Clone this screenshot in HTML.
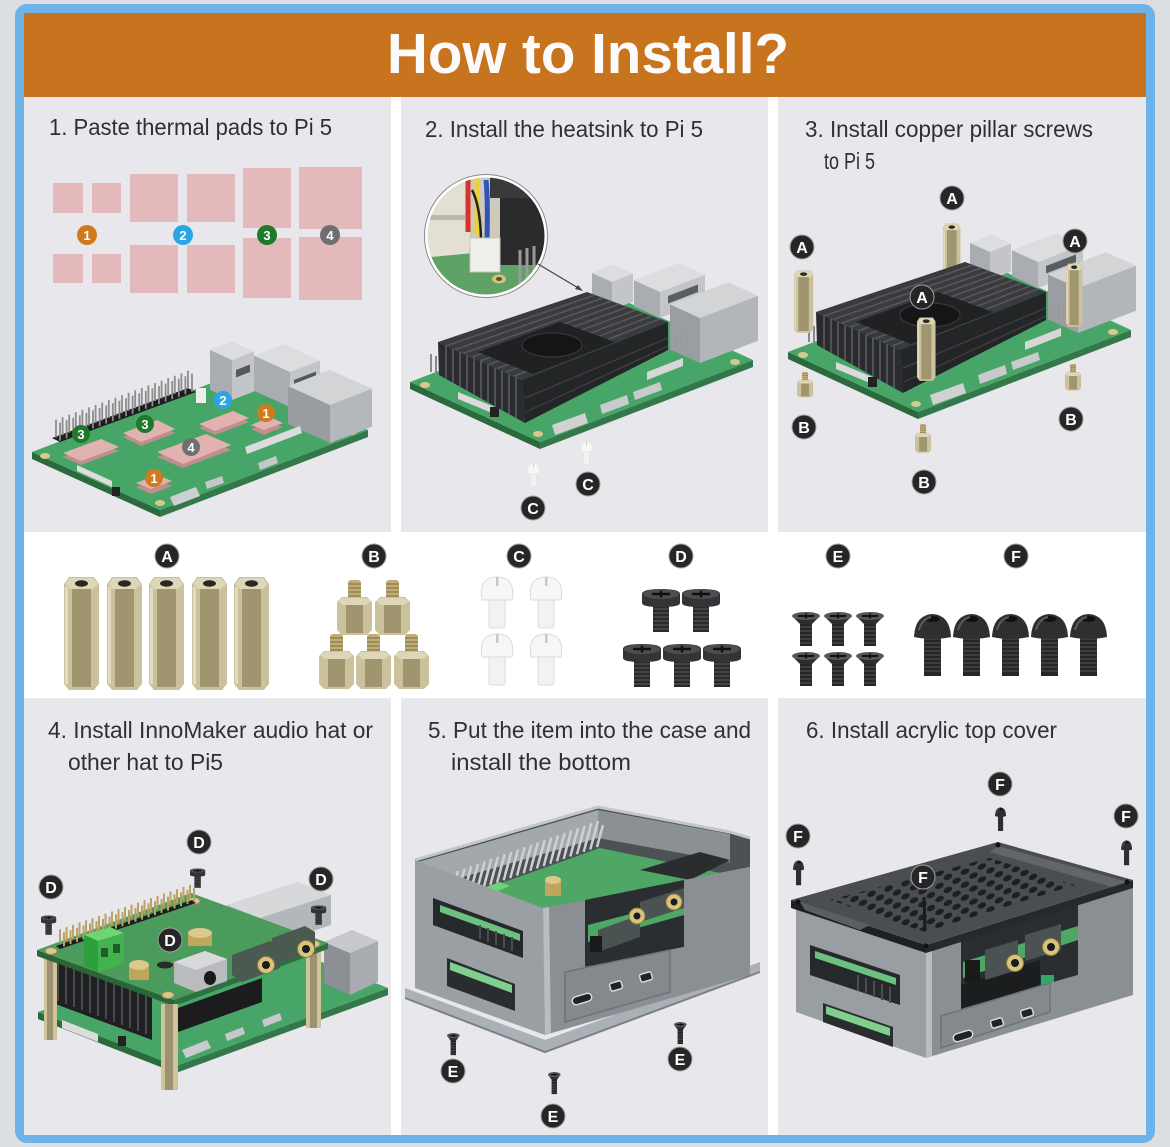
<!DOCTYPE html>
<html><head><meta charset="utf-8"><style>
html,body{margin:0;padding:0;background:#dcdfe1;}
svg{display:block;}
.bd circle{fill:#262626;stroke:#a0a0a0;stroke-width:1;}
.bd text{fill:#fff;font-weight:bold;font-size:16px;text-anchor:middle;font-family:"Liberation Sans",sans-serif;}
.nb text{fill:#fff;font-weight:bold;font-size:13px;text-anchor:middle;font-family:"Liberation Sans",sans-serif;}
.st{font-family:"Liberation Sans",sans-serif;font-size:23px;fill:#303030;}
</style></head><body>
<svg width="1170" height="1147" viewBox="0 0 1170 1147" xmlns="http://www.w3.org/2000/svg">
<defs>
 <g id="pA">
  <polygon points="0,8 5,1 30,1 35,8 35,108 30,114 5,114 0,108" fill="#cbc29d"/>
  <rect x="8" y="11" width="19" height="100" fill="#9f9670"/>
  <rect x="1" y="11" width="3" height="97" fill="#e2dbbf"/>
  <polygon points="1,8 6,2 29,2 34,8 29,13 6,13" fill="#ddd6b8"/>
  <ellipse cx="17.5" cy="7.5" rx="6.5" ry="3.2" fill="#2a2822"/>
 </g>
 <g id="pB">
  <rect x="11" y="0" width="13" height="22" rx="3" fill="#bfae78"/>
  <path d="M11 4h13M11 8h13M11 12h13M11 16h13" stroke="#8a7a4c" stroke-width="1.2"/>
  <polygon points="0,22 5,17 30,17 35,22 35,50 30,55 5,55 0,50" fill="#cbc29d"/>
  <rect x="9" y="22" width="17" height="31" fill="#9f9670"/>
  <polygon points="1,21 6,18 29,18 34,21 29,25 6,25" fill="#ddd6b8"/>
 </g>
 <g id="pC">
  <rect x="10" y="20" width="16" height="32" rx="2" fill="#f2f2f2" stroke="#dcdcdc" stroke-width="1"/>
  <path d="M3 24 Q0 8 9 3 Q18 -1 27 3 Q36 8 33 24 Z" fill="#f7f7f7" stroke="#dadada" stroke-width="1"/>
  <rect x="17" y="1" width="2.5" height="9" fill="#c8c8c8"/>
 </g>
 <g id="pD">
  <rect x="11" y="16" width="16" height="28" fill="#2a2a2b"/>
  <path d="M11 21h16M11 25h16M11 29h16M11 33h16M11 37h16M11 41h16" stroke="#555" stroke-width="1.2"/>
  <path d="M0 6 Q0 1 19 1 Q38 1 38 6 L38 15 Q38 19 19 19 Q0 19 0 15 Z" fill="#333436"/>
  <ellipse cx="19" cy="6" rx="18" ry="5" fill="#4d4e51"/>
  <path d="M10 6h18M19 2.5v7" stroke="#111" stroke-width="2.5"/>
 </g>
 <g id="pE">
  <rect x="8" y="10" width="12" height="24" fill="#262627"/>
  <path d="M8 15h12M8 19h12M8 23h12M8 27h12M8 31h12" stroke="#4e4e4e" stroke-width="1.2"/>
  <polygon points="0,4 28,4 20,12 8,12" fill="#2d2d2e"/>
  <ellipse cx="14" cy="4" rx="14" ry="4" fill="#555658"/>
  <path d="M6 4h16M14 1.5v5" stroke="#111" stroke-width="2"/>
 </g>
 <g id="pF">
  <rect x="10" y="20" width="17" height="43" fill="#262627"/>
  <path d="M10 26h17M10 30h17M10 34h17M10 38h17M10 42h17M10 46h17M10 50h17M10 54h17M10 58h17" stroke="#4a4a4a" stroke-width="1.2"/>
  <path d="M0 24 Q1 2 18.5 1 Q36 2 37 24 Q18.5 28 0 24Z" fill="#2e2f31"/>
  <ellipse cx="18.5" cy="6" rx="7" ry="3" fill="#111"/>
  <path d="M5 17 Q8 6 17 4" stroke="#5a5b5e" stroke-width="2" fill="none"/>
 </g>
 <g id="pi2">
  <polygon points="410,382 540,442 540,449 410,389" fill="#2a6a3d"/>
  <polygon points="540,442 753,360 753,367 540,449" fill="#33784a"/>
  <polygon points="410,382 540,442 753,360 623,300" fill="#47a667"/>
  <ellipse cx="425" cy="385" rx="5" ry="3" fill="#d9c98f"/>
  <ellipse cx="538" cy="434" rx="5" ry="3" fill="#d9c98f"/>
  <ellipse cx="735" cy="362" rx="5" ry="3" fill="#d9c98f"/>
  <polygon points="612,282 592,273 613,264.5 633,273.5" fill="#dcdddf"/>
  <polygon points="592,273 612,282 612,310 592,301" fill="#a9acb0"/>
  <polygon points="612,282 633,273.5 633,301.5 612,310" fill="#c3c5c8"/>
  <polygon points="660,292 634,280.3 679,263 705,274.7" fill="#dcdddf"/>
  <polygon points="634,280.3 660,292 660,318 634,306.3" fill="#a9acb0"/>
  <polygon points="660,292 705,274.7 705,300.7 660,318" fill="#c3c5c8"/>
  <polygon points="668,296 698,284.5 698,292 668,303.5" fill="#5a5d61"/>
  <polygon points="700,318 670,304.5 728,282.2 758,295.7" fill="#d2d4d6"/>
  <polygon points="670,304.5 700,318 700,363 670,349.5" fill="#9a9da1"/>
  <polygon points="700,318 758,295.7 758,340.7 700,363" fill="#b3b6b9"/>
  <path d="M676 352v-16M681 350v-16M686 348v-16" stroke="#9a9a9a" stroke-width="2"/>
  <polygon points="647,372 683,358 683,366 647,380" fill="#d7d7d7"/>
  <polygon points="633,392 660,382 662,390 635,400" fill="#c8cacc"/>
  <polygon points="600,405 627,395 629,404 602,414" fill="#c8cacc"/>
  <polygon points="552,425 585,413 588,423 555,435" fill="#cfd1d3"/>
  <polygon points="458,392 497,408 497,415 458,399" fill="#dadada"/>
  <rect x="490" y="407" width="9" height="10" fill="#222"/>
  <path d="M431 372v-18M436 374v-18" stroke="#888" stroke-width="2"/>
  <polygon points="438,342 522,380 525,423 439,375" fill="#2a2b2e"/>
  <polygon points="522,380 668,322 668,350 525,423" fill="#242527"/>
  <polygon points="438,342 587,292 668,322 522,380" fill="#3a3b3e"/>
  <path d="M446.4 345.8L595.1 295M454.8 349.6L603.2 298M463.2 353.4L611.3 301M471.6 357.2L619.4 304M480 361L627.5 307M488.4 364.8L635.6 310M496.8 368.6L643.7 313M505.2 372.4L651.8 316M513.6 376.2L659.9 319" stroke="#55575b" stroke-width="1.6"/>
  <path d="M446 345.6V378.9M453 348.8V382.8M460 352V386.7M467 355.1V390.6M474 358.3V394.5M481 361.5V398.4M488 364.6V402.3M495 367.8V406.2M502 371V410.2M509 374.1V414.1M516 377.3V418" stroke="#5a5c60" stroke-width="1.6"/>
  <path d="M525 398L668 338M526 412L668 346" stroke="#3c3d40" stroke-width="1.5"/>
  <polygon points="478,352 560,322 615,342 533,374" fill="#202123"/>
  <ellipse cx="552" cy="345" rx="30" ry="12" fill="#151517" stroke="#3a3b3e" stroke-width="1"/>
 </g>
 <clipPath id="insetClip"><circle cx="486" cy="236" r="60"/></clipPath>
 <pattern id="hex" patternUnits="userSpaceOnUse" width="17" height="13" patternTransform="skewY(-17)">
  <ellipse cx="4.5" cy="3.2" rx="4.3" ry="2.9" fill="#1d1f22"/>
  <ellipse cx="13" cy="9.7" rx="4.3" ry="2.9" fill="#1d1f22"/>
 </pattern>
</defs>

<!-- frame -->
<rect width="1170" height="1147" fill="#dcdfe1"/>
<rect x="15" y="4" width="1140" height="1139" rx="12" fill="#6db3ea"/>
<rect x="24" y="13" width="1122" height="1122" fill="#ffffff"/>
<rect x="24" y="13" width="1122" height="84" fill="#c8741f"/>
<text x="387" y="73" font-family="'Liberation Sans',sans-serif" font-size="57" font-weight="bold" fill="#fbfbfb" textLength="402" lengthAdjust="spacingAndGlyphs">How to Install?</text>

<!-- panels -->
<rect x="24" y="97" width="367" height="435" fill="#e8e7ec"/>
<rect x="401" y="97" width="367" height="435" fill="#e8e7ec"/>
<rect x="778" y="97" width="368" height="435" fill="#e8e7ec"/>
<rect x="24" y="698" width="367" height="437" fill="#e8e7ec"/>
<rect x="401" y="698" width="367" height="437" fill="#e8e7ec"/>
<rect x="778" y="698" width="368" height="437" fill="#e8e7ec"/>

<!-- step texts -->
<text class="st" x="49" y="135" textLength="283" lengthAdjust="spacingAndGlyphs">1. Paste thermal pads to Pi 5</text>
<text class="st" x="425" y="137" textLength="278" lengthAdjust="spacingAndGlyphs">2. Install the heatsink to Pi 5</text>
<text class="st" x="805" y="137" textLength="288" lengthAdjust="spacingAndGlyphs">3. Install copper pillar screws</text>
<text class="st" x="824" y="169" textLength="51" lengthAdjust="spacingAndGlyphs">to Pi 5</text>
<text class="st" x="48" y="738" textLength="325" lengthAdjust="spacingAndGlyphs">4. Install InnoMaker audio hat or</text>
<text class="st" x="68" y="770" textLength="155" lengthAdjust="spacingAndGlyphs">other hat to Pi5</text>
<text class="st" x="428" y="738" textLength="323" lengthAdjust="spacingAndGlyphs">5. Put the item into the case and</text>
<text class="st" x="451" y="770" textLength="180" lengthAdjust="spacingAndGlyphs">install the bottom</text>
<text class="st" x="806" y="738" textLength="251" lengthAdjust="spacingAndGlyphs">6. Install acrylic top cover</text>

<!-- ========== PANEL 1 ========== -->
<g fill="#e3b9bb">
 <rect x="53" y="183" width="30" height="30"/><rect x="92" y="183" width="29" height="30"/>
 <rect x="130" y="174" width="48" height="48"/><rect x="187" y="174" width="48" height="48"/>
 <rect x="243" y="168" width="48" height="60"/><rect x="299" y="167" width="63" height="62"/>
 <rect x="53" y="254" width="30" height="29"/><rect x="92" y="254" width="29" height="29"/>
 <rect x="130" y="245" width="48" height="48"/><rect x="187" y="245" width="48" height="48"/>
 <rect x="243" y="238" width="48" height="60"/><rect x="299" y="237" width="63" height="63"/>
</g>
<g class="nb">
 <circle cx="87" cy="235" r="10" fill="#d07a1e"/><text x="87" y="240">1</text>
 <circle cx="183" cy="235" r="10" fill="#2aa6e4"/><text x="183" y="240">2</text>
 <circle cx="267" cy="235" r="10" fill="#1d7a2b"/><text x="267" y="240">3</text>
 <circle cx="330" cy="235" r="10" fill="#6f6f70"/><text x="330" y="240">4</text>
</g>
<!-- board -->
<polygon points="32,452 160,510 160,517 32,459" fill="#2a6a3d"/>
<polygon points="160,510 368,430 368,437 160,517" fill="#33784a"/>
<polygon points="32,452 160,510 368,430 240,372" fill="#47a667"/>
<ellipse cx="45" cy="456" rx="5" ry="3" fill="#d8c88e"/>
<ellipse cx="160" cy="503" rx="5" ry="3" fill="#d8c88e"/>
<ellipse cx="352" cy="432" rx="5" ry="3" fill="#d8c88e"/>
<!-- ports -->
<polygon points="232,360 210,350 232,341.5 254,351.5" fill="#dcdddf"/>
<polygon points="210,350 232,360 232,400 210,390" fill="#a9acb0"/>
<polygon points="232,360 254,351.5 254,391.5 232,400" fill="#c3c5c8"/>
<polygon points="236,370 250,364.5 250,372 236,377.5" fill="#55585c"/>
<polygon points="290,372 254,355.8 284,344.3 320,360.5" fill="#dcdddf"/>
<polygon points="254,355.8 290,372 290,407 254,390.8" fill="#a9acb0"/>
<polygon points="290,372 320,360.5 320,395.5 290,407" fill="#c3c5c8"/>
<polygon points="294,380 316,371.5 316,379 294,387.5" fill="#55585c"/>
<polygon points="330,405 288,386.1 330,369.9 372,388.8" fill="#d2d4d6"/>
<polygon points="288,386.1 330,405 330,443 288,424.1" fill="#999ca0"/>
<polygon points="330,405 372,388.8 372,426.8 330,443" fill="#b5b8bb"/>
<!-- header -->
<polygon points="52,438 188,388 196,392 60,442" fill="#1d1d1f"/>
<path id="hdr1" d="M56 437.6v-18M62.6 435.2v-18M69.2 432.7v-18M75.8 430.3v-18M82.4 427.9v-18M89 425.4v-18M95.6 423v-18M102.2 420.5v-18M108.8 418.1v-18M115.4 415.7v-18M122 413.2v-18M128.6 410.8v-18M135.2 408.3v-18M141.8 405.9v-18M148.4 403.4v-18M155 401v-18M161.6 398.6v-18M168.2 396.1v-18M174.8 393.7v-18M181.4 391.3v-18M188 388.8v-18" stroke="#8d8d8d" stroke-width="1.8"/>
<use href="#hdr1" transform="translate(4,3)"/>
<!-- small components -->
<rect x="196" y="388" width="10" height="15" fill="#eeeeee"/>
<polygon points="170,497 196,487 200,496 174,506" fill="#cdd0d2"/>
<polygon points="205,482 222,476 224,483 207,489" fill="#c5c7ca"/>
<polygon points="258,463 276,456 278,463 260,470" fill="#c5c7ca"/>
<polygon points="245,447 300,426 302,433 247,454" fill="#dcdcdc"/>
<polygon points="77,465 112,481 112,487 77,471" fill="#dddddd"/>
<rect x="112" y="487" width="8" height="9" fill="#222"/>
<!-- pads on board -->
<g fill="#c08e8f">
 <polygon points="63,457 101,443 119,451 81,465"/>
 <polygon points="123,437 157,424 175,433 141,446"/>
 <polygon points="157,457 206,438 231,450 183,468"/>
 <polygon points="199,428 233,415 249,422 215,435"/>
 <polygon points="251,429 270,422 283,427 264,435"/>
 <polygon points="136,487 157,479 172,486 151,494"/>
</g>
<g fill="#e2b2b1">
 <polygon points="63,453 101,439 119,447 81,461"/>
 <polygon points="123,433 157,420 175,429 141,442"/>
 <polygon points="157,452 206,434 231,445 183,464"/>
 <polygon points="199,424 233,411 249,418 215,431"/>
 <polygon points="251,425 270,417 283,423 264,430"/>
 <polygon points="136,483 157,475 172,481 151,489"/>
</g>
<g class="nb">
 <circle cx="81" cy="434" r="9" fill="#1d7a2b"/><text x="81" y="439">3</text>
 <circle cx="145" cy="424" r="9" fill="#1d7a2b"/><text x="145" y="429">3</text>
 <circle cx="223" cy="400" r="9" fill="#2aa6e4"/><text x="223" y="405">2</text>
 <circle cx="266" cy="413" r="9" fill="#d07a1e"/><text x="266" y="418">1</text>
 <circle cx="191" cy="447" r="9" fill="#6f6f70"/><text x="191" y="452">4</text>
 <circle cx="154" cy="478" r="9" fill="#d07a1e"/><text x="154" y="483">1</text>
</g>

<!-- ========== PANEL 2 ========== -->
<use href="#pi2"/>
<g clip-path="url(#insetClip)">
 <rect x="420" y="170" width="135" height="135" fill="#cfc9bb"/>
 <rect x="420" y="170" width="50" height="95" fill="#e4dfd3"/>
 <rect x="425" y="215" width="40" height="5" fill="#bdb7a8"/>
 <polygon points="420,258 560,245 560,305 420,305" fill="#5fa265"/>
 <rect x="500" y="195" width="50" height="70" fill="#2b2b2d"/>
 <rect x="490" y="170" width="60" height="28" fill="#3a3a3c"/>
 <path d="M468 172 V232" stroke="#d8322a" stroke-width="5"/>
 <path d="M477 172 V235" stroke="#e8d23a" stroke-width="5"/>
 <path d="M486 180 Q488 200 487 238" stroke="#2d55b8" stroke-width="5" fill="none"/>
 <path d="M472 190 Q480 205 481 238" stroke="#222" stroke-width="2.5" fill="none"/>
 <rect x="470" y="238" width="30" height="34" fill="#f0efe9" stroke="#c9c6bd"/>
 <path d="M520 250v35M527 248v37M534 246v36" stroke="#9a9a9a" stroke-width="3"/>
 <ellipse cx="499" cy="279" rx="7" ry="4.5" fill="#d6c27a"/>
 <ellipse cx="499" cy="279" rx="3" ry="2" fill="#5a4f2e"/>
</g>
<circle cx="486" cy="236" r="60" fill="none" stroke="#ffffff" stroke-width="3"/>
<circle cx="486" cy="236" r="61.5" fill="none" stroke="#8a8a8a" stroke-width="1"/>
<line x1="538" y1="264" x2="580" y2="289" stroke="#444" stroke-width="1.2"/>
<polygon points="583,291 575,289 578,285" fill="#444"/>
<use href="#pC" transform="translate(527,463) scale(0.36,0.45)"/>
<use href="#pC" transform="translate(580,441) scale(0.36,0.45)"/>
<g class="bd">
 <circle cx="533" cy="508" r="12"/><text x="533" y="514">C</text>
 <circle cx="588" cy="484" r="12"/><text x="588" y="490">C</text>
</g>

<!-- ========== PANEL 3 ========== -->
<use href="#pA" transform="translate(943,223) scale(0.5,0.55)"/>
<use href="#pi2" transform="translate(378,-30)"/>
<use href="#pA" transform="translate(794,270) scale(0.55,0.55)"/>
<use href="#pA" transform="translate(1066,263) scale(0.47,0.56)"/>
<use href="#pA" transform="translate(917,317) scale(0.53,0.56)"/>
<use href="#pB" transform="translate(797,372) scale(0.46,0.46)"/>
<use href="#pB" transform="translate(1065,364) scale(0.46,0.48)"/>
<use href="#pB" transform="translate(915,424) scale(0.46,0.52)"/>
<g class="bd">
 <circle cx="952" cy="198" r="12"/><text x="952" y="204">A</text>
 <circle cx="802" cy="247" r="12"/><text x="802" y="253">A</text>
 <circle cx="1075" cy="241" r="12"/><text x="1075" y="247">A</text>
 <circle cx="922" cy="297" r="12"/><text x="922" y="303">A</text>
 <circle cx="804" cy="427" r="12"/><text x="804" y="433">B</text>
 <circle cx="1071" cy="419" r="12"/><text x="1071" y="425">B</text>
 <circle cx="924" cy="482" r="12"/><text x="924" y="488">B</text>
</g>

<!-- ========== ROW 2 PARTS ========== -->
<g class="bd">
 <circle cx="167" cy="556" r="12"/><text x="167" y="562">A</text>
 <circle cx="374" cy="556" r="12"/><text x="374" y="562">B</text>
 <circle cx="519" cy="556" r="12"/><text x="519" y="562">C</text>
 <circle cx="681" cy="556" r="12"/><text x="681" y="562">D</text>
 <circle cx="838" cy="556" r="12"/><text x="838" y="562">E</text>
 <circle cx="1016" cy="556" r="12"/><text x="1016" y="562">F</text>
</g>
<use href="#pA" transform="translate(64,576)"/>
<use href="#pA" transform="translate(107,576)"/>
<use href="#pA" transform="translate(149,576)"/>
<use href="#pA" transform="translate(192,576)"/>
<use href="#pA" transform="translate(234,576)"/>
<use href="#pB" transform="translate(337,580)"/>
<use href="#pB" transform="translate(375,580)"/>
<use href="#pB" transform="translate(319,634)"/>
<use href="#pB" transform="translate(356,634)"/>
<use href="#pB" transform="translate(394,634)"/>
<use href="#pC" transform="translate(479,576)"/>
<use href="#pC" transform="translate(528,576)"/>
<use href="#pC" transform="translate(479,633)"/>
<use href="#pC" transform="translate(528,633)"/>
<use href="#pD" transform="translate(642,588)"/>
<use href="#pD" transform="translate(682,588)"/>
<use href="#pD" transform="translate(623,643)"/>
<use href="#pD" transform="translate(663,643)"/>
<use href="#pD" transform="translate(703,643)"/>
<use href="#pE" transform="translate(792,612)"/>
<use href="#pE" transform="translate(824,612)"/>
<use href="#pE" transform="translate(856,612)"/>
<use href="#pE" transform="translate(792,652)"/>
<use href="#pE" transform="translate(824,652)"/>
<use href="#pE" transform="translate(856,652)"/>
<use href="#pF" transform="translate(914,613)"/>
<use href="#pF" transform="translate(953,613)"/>
<use href="#pF" transform="translate(992,613)"/>
<use href="#pF" transform="translate(1031,613)"/>
<use href="#pF" transform="translate(1070,613)"/>

<!-- ========== PANEL 4 ========== -->
<polygon points="38,1012 176,1066 176,1073 38,1019" fill="#2a6a3d"/>
<polygon points="176,1066 388,988 388,995 176,1073" fill="#33784a"/>
<polygon points="38,1012 176,1066 388,988 250,934" fill="#47a667"/>
<polygon points="227,905 298,882 331,895 331,925 262,948 227,932" fill="#b3b6ba"/>
<polygon points="227,905 298,882 331,895 260,918" fill="#d7d8da"/>
<polygon points="324,942 350,953 350,995 324,983" fill="#8c9094"/>
<polygon points="350,953 378,941 378,982 350,995" fill="#a8abaf"/>
<polygon points="324,942 352,930 378,941 350,953" fill="#c6c8cb"/>
<polygon points="50,960 152,998 152,1040 50,1002" fill="#1f2022"/>
<path d="M58 963v38M66 966v38M74 969v38M82 972v38M90 975v38M98 978v38M106 981v38M114 984v38M122 987v38M130 990v38M138 993v38M146 996v38" stroke="#4c4e52" stroke-width="1.8"/>
<polygon points="178,1008 262,978 262,1002 178,1032" fill="#1c1c1e"/>
<polygon points="62,1020 98,1034 98,1042 62,1028" fill="#dcdcdc"/>
<polygon points="182,1050 207,1040 211,1048 186,1058" fill="#c9cbcd"/>
<polygon points="225,1034 243,1027 245,1034 227,1041" fill="#c5c7ca"/>
<polygon points="262,1020 280,1013 282,1020 264,1027" fill="#c5c7ca"/>
<rect x="118" y="1036" width="8" height="10" fill="#222"/>
<!-- pillars behind -->
<rect x="306" y="945" width="15" height="83" fill="#cfc39a"/><rect x="310" y="945" width="7" height="83" fill="#9c9170"/>
<rect x="44" y="955" width="13" height="85" fill="#cfc39a"/><rect x="47" y="955" width="6" height="85" fill="#9c9170"/>
<!-- HAT -->
<polygon points="37,950 174,1000 174,1006 37,956" fill="#2a6536"/>
<polygon points="174,1000 328,943 328,949 174,1006" fill="#2f7040"/>
<polygon points="37,950 174,1000 328,943 191,893" fill="#4b9c5c"/>
<ellipse cx="51" cy="951" rx="6" ry="3.5" fill="#d9c88e" stroke="#9b8a55"/>
<ellipse cx="168" cy="995" rx="6" ry="3.5" fill="#d9c88e" stroke="#9b8a55"/>
<ellipse cx="314" cy="944" rx="6" ry="3.5" fill="#d9c88e" stroke="#9b8a55"/>
<ellipse cx="194" cy="901" rx="6" ry="3.5" fill="#d9c88e" stroke="#9b8a55"/>
<polygon points="56,946 192,900 196,903 60,949" fill="#1d1d1f"/>
<path id="hdr4" d="M60 943.3v-14M66.5 941.1v-14M73 938.9v-14M79.5 936.6v-14M86 934.4v-14M92.5 932.2v-14M99 929.9v-14M105.5 927.7v-14M112 925.5v-14M118.5 923.2v-14M125 921v-14M131.5 918.8v-14M138 916.6v-14M144.5 914.3v-14M151 912.1v-14M157.5 909.9v-14M164 907.6v-14M170.5 905.4v-14M177 903.2v-14M183.5 900.9v-14M190 898.7v-14" stroke="#b9a263" stroke-width="2"/>
<use href="#hdr4" transform="translate(4,3)"/>
<polygon points="84,935 110,927 124,933 98,941" fill="#6fd473"/>
<polygon points="84,935 98,941 98,972 84,966" fill="#2f9e3c"/>
<polygon points="98,941 124,933 124,963 98,972" fill="#43b34f"/>
<rect x="101" y="948" width="7" height="9" fill="#1f5e27"/><rect x="113" y="944" width="7" height="9" fill="#1f5e27"/>
<polygon points="174,962 205,951 227,959 227,981 196,992 174,983" fill="#b9bbbe"/>
<polygon points="174,962 205,951 227,959 196,970" fill="#d8d9db"/>
<ellipse cx="210" cy="978" rx="6" ry="7" fill="#1a1a1a"/>
<rect x="129" y="965" width="20" height="15" fill="#c0a55c"/>
<ellipse cx="139" cy="965" rx="10" ry="5" fill="#dcc88a"/>
<rect x="188" y="933" width="24" height="13" fill="#c0a55c"/>
<ellipse cx="200" cy="933" rx="12" ry="5" fill="#dcc88a"/>
<polygon points="232,955 270,941 280,948 280,968 242,982 232,975" fill="#4a5a50"/>
<polygon points="272,938 305,926 315,932 315,950 282,962 272,956" fill="#4a5a50"/>
<circle cx="266" cy="965" r="8.5" fill="#d9c47e" stroke="#8c7a3e"/><circle cx="266" cy="965" r="4" fill="#1b1b1b"/>
<circle cx="306" cy="949" r="8.5" fill="#d9c47e" stroke="#8c7a3e"/><circle cx="306" cy="949" r="4" fill="#1b1b1b"/>
<ellipse cx="165" cy="965" rx="8" ry="3.5" fill="#2a2a2a"/>
<!-- front pillar -->
<rect x="161" y="1004" width="17" height="86" fill="#cfc39a"/><rect x="165" y="1004" width="8" height="86" fill="#9c9170"/>
<use href="#pD" transform="translate(190,868) scale(0.4,0.45)"/>
<use href="#pD" transform="translate(41,915) scale(0.4,0.45)"/>
<use href="#pD" transform="translate(311,905) scale(0.4,0.45)"/>
<g class="bd">
 <circle cx="199" cy="842" r="12"/><text x="199" y="848">D</text>
 <circle cx="51" cy="887" r="12"/><text x="51" y="893">D</text>
 <circle cx="321" cy="879" r="12"/><text x="321" y="885">D</text>
 <circle cx="170" cy="940" r="12"/><text x="170" y="946">D</text>
</g>

<!-- ========== PANEL 5 ========== -->
<polygon points="405,988 545,1040 760,962 760,972 545,1052 405,998" fill="#aab0b5"/>
<polyline points="405,998 545,1052 760,972" fill="none" stroke="#7b8085" stroke-width="2"/>
<polygon points="415,860 598,807 730,832 750,838 750,867 543,908" fill="#4c5156"/>
<polygon points="418,862 598,810 598,838 418,890" fill="#a3a8ad"/>
<polygon points="598,810 730,834 730,862 598,838" fill="#8b9095"/>
<polygon points="440,905 600,848 725,874 565,930" fill="#4fa765"/>
<path id="pins5" d="M452 893l6-22M458.7 890.6l6-22M465.3 888.2l6-22M472 885.9l6-22M478.7 883.5l6-22M485.3 881.1l6-22M492 878.7l6-22M498.7 876.3l6-22M505.3 874l6-22M512 871.6l6-22M518.7 869.2l6-22M525.3 866.8l6-22M532 864.4l6-22M538.7 862.1l6-22M545.3 859.7l6-22M552 857.3l6-22M558.7 854.9l6-22M565.3 852.5l6-22M572 850.2l6-22M578.7 847.8l6-22M585.3 845.4l6-22M592 843l6-22" stroke="#cfd0d1" stroke-width="2.4"/>
<use href="#pins5" transform="translate(5,4)"/>
<polygon points="483,888 500,882 510,886 493,893" fill="#6fd473"/>
<polygon points="483,888 493,893 493,903 483,898" fill="#3aa346"/>
<rect x="545" y="880" width="16" height="16" fill="#c0a55c"/><ellipse cx="553" cy="880" rx="8" ry="4" fill="#dcc88a"/>
<polygon points="640,870 700,852 730,860 690,880" fill="#2a2c2e"/>
<polyline points="415,860 598,807 730,832 750,838" fill="none" stroke="#c3c7cb" stroke-width="3"/>
<!-- notch interior -->
<polygon points="585,900 684,880 684,947 585,967" fill="#2b2e31"/>
<polygon points="588,925 684,900 684,915 588,942" fill="#4fa765"/>
<polygon points="598,930 640,915 640,937 598,952" fill="#4a5252"/>
<polygon points="640,902 684,888 684,908 640,922" fill="#4a5252"/>
<circle cx="637" cy="916" r="8" fill="#d9c47e" stroke="#8c7a3e"/><circle cx="637" cy="916" r="3.5" fill="#1b1b1b"/>
<circle cx="674" cy="902" r="8" fill="#d9c47e" stroke="#8c7a3e"/><circle cx="674" cy="902" r="3.5" fill="#1b1b1b"/>
<rect x="590" y="936" width="12" height="16" fill="#1a1a1a"/>
<!-- front face with notch -->
<polygon points="543,908 585,900 585,967 684,947 684,880 750,867 750,975 545,1035" fill="#8a8f94"/>
<polygon points="543,908 549,907 551,1033 545,1035" fill="#b9bdc1"/>
<polygon points="565,972 670,950 670,992 565,1022" fill="#84898e" stroke="#6e7378" stroke-width="1.5"/>
<rect x="-10" y="-4" width="20" height="8" rx="4" transform="translate(582,999) rotate(-17)" fill="#222" stroke="#d9dadc" stroke-width="1.5"/>
<rect x="-6" y="-4" width="12" height="8" rx="2" transform="translate(616,986) rotate(-17)" fill="#222" stroke="#d9dadc" stroke-width="1.5"/>
<rect x="-6" y="-4" width="12" height="8" rx="2" transform="translate(646,977) rotate(-17)" fill="#222" stroke="#d9dadc" stroke-width="1.5"/>
<!-- left face -->
<polygon points="415,860 543,908 545,1035 415,988" fill="#9a9fa4"/>
<polygon points="433,898 523,931 523,958 433,925" fill="#26292c"/>
<polygon points="440,905 520,934 520,941 440,912" fill="#6cc080"/>
<path d="M480 925v14M488 928v14M496 931v14M504 934v14M512 937v14" stroke="#4a4c50" stroke-width="2"/>
<polygon points="447,958 515,984 515,1011 447,986" fill="#2a2d30"/>
<polygon points="450,962 512,985 512,993 450,970" fill="#7fd08f"/>
<use href="#pE" transform="translate(447,1033) scale(0.45,0.65)"/>
<use href="#pE" transform="translate(548,1072) scale(0.45,0.65)"/>
<use href="#pE" transform="translate(674,1022) scale(0.45,0.65)"/>
<g class="bd">
 <circle cx="453" cy="1071" r="12"/><text x="453" y="1077">E</text>
 <circle cx="680" cy="1059" r="12"/><text x="680" y="1065">E</text>
 <circle cx="553" cy="1116" r="12"/><text x="553" y="1122">E</text>
</g>

<!-- ========== PANEL 6 ========== -->
<polygon points="796,908 926,952 926,1058 796,1012" fill="#999ea3"/>
<polygon points="810,945 900,975 900,1005 810,975" fill="#26292c"/>
<polygon points="815,951 896,978 896,985 815,958" fill="#6cc080"/>
<path d="M858 975v16M866 978v16M874 981v16M882 984v16M890 987v16" stroke="#4a4c50" stroke-width="2"/>
<polygon points="823,1003 893,1027 893,1047 823,1022" fill="#2a2d30"/>
<polygon points="826,1006 890,1028 890,1036 826,1014" fill="#7fd08f"/>
<!-- notch interior -->
<polygon points="961,941 1078,904 1078,975 961,1009" fill="#2b2e31"/>
<polygon points="963,962 1078,926 1078,940 963,978" fill="#4fa765"/>
<polygon points="961,985 1040,960 1040,985 961,1009" fill="#1c1d1f"/>
<polygon points="985,950 1018,940 1018,970 985,980" fill="#4a5252"/>
<polygon points="1025,935 1061,924 1061,950 1025,961" fill="#4a5252"/>
<circle cx="1015" cy="963" r="8.5" fill="#d9c47e" stroke="#8c7a3e"/><circle cx="1015" cy="963" r="4" fill="#1b1b1b"/>
<circle cx="1051" cy="947" r="8.5" fill="#d9c47e" stroke="#8c7a3e"/><circle cx="1051" cy="947" r="4" fill="#1b1b1b"/>
<rect x="965" y="960" width="15" height="22" fill="#1a1a1a"/>
<rect x="1041" y="975" width="13" height="12" fill="#2fa86a"/>
<!-- front face -->
<polygon points="926,952 961,941 961,1009 1078,975 1078,904 1133,887 1133,995 926,1058" fill="#8a8f94"/>
<polygon points="926,952 932,950 932,1056 926,1058" fill="#b9bdc1"/>
<polygon points="941,1016 1050,983 1050,1012 941,1048" fill="#84898e" stroke="#6e7378" stroke-width="1.5"/>
<rect x="-10" y="-4" width="20" height="8" rx="4" transform="translate(963,1036) rotate(-17)" fill="#222" stroke="#d9dadc" stroke-width="1.5"/>
<rect x="-6" y="-4" width="12" height="8" rx="2" transform="translate(997,1023) rotate(-17)" fill="#222" stroke="#d9dadc" stroke-width="1.5"/>
<rect x="-6" y="-4" width="12" height="8" rx="2" transform="translate(1027,1013) rotate(-17)" fill="#222" stroke="#d9dadc" stroke-width="1.5"/>
<!-- cover -->
<polygon points="791,900 926,945 926,953 791,908" fill="#1e2023"/>
<polygon points="926,945 1133,880 1133,888 926,953" fill="#26282b"/>
<polygon points="791,900 926,945 1133,880 998,842" fill="#4a4d52"/>
<polygon points="998,846 1128,882 1112,887 990,852" fill="#62666b"/>
<polygon points="800,902 870,925 860,930 805,910" fill="#5b5f64"/>
<polygon points="830,900 925,932 1075,885 990,858" fill="url(#hex)"/>
<circle cx="798" cy="902" r="2.5" fill="#111"/><circle cx="926" cy="946" r="2.5" fill="#111"/>
<circle cx="1127" cy="882" r="2.5" fill="#111"/><circle cx="998" cy="845" r="2.5" fill="#111"/>
<use href="#pF" transform="translate(793,860) scale(0.3,0.4)"/>
<use href="#pF" transform="translate(995,807) scale(0.3,0.38)"/>
<use href="#pF" transform="translate(1121,840) scale(0.3,0.4)"/>
<line x1="924" y1="897" x2="925" y2="930" stroke="#1a1a1a" stroke-width="3"/>
<g class="bd">
 <circle cx="1000" cy="784" r="12"/><text x="1000" y="790">F</text>
 <circle cx="798" cy="836" r="12"/><text x="798" y="842">F</text>
 <circle cx="1126" cy="816" r="12"/><text x="1126" y="822">F</text>
 <circle cx="923" cy="877" r="12"/><text x="923" y="883">F</text>
</g>
</svg>
</body></html>
